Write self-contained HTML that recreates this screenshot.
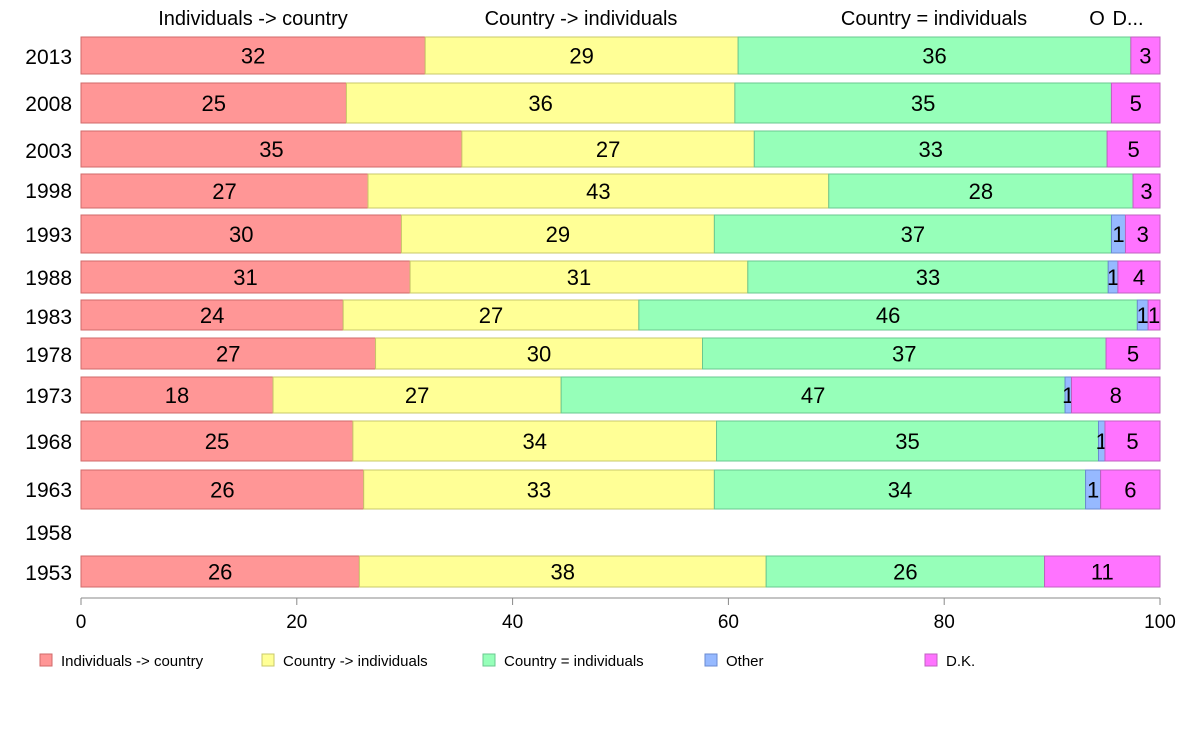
<!DOCTYPE html>
<html><head><meta charset="utf-8"><style>
body{margin:0;background:#fff;font-family:"Liberation Sans",sans-serif}
svg text{font-family:"Liberation Sans",sans-serif}
</style></head><body>
<svg width="1188" height="736">
<g id="hdr"></g>
<g id="bars"></g>
<g id="axis"></g>
<g id="legend"></g>
</svg>
<script>
const years = ["2013","2008","2003","1998","1993","1988","1983","1978","1973","1968","1963","1958","1953"];
const indToCountry = [31.9,24.6,35.3,26.6,29.7,30.5,24.3,27.3,17.8,25.2,26.2,0,25.8];
const countryToInd = [29.0,36.0,27.1,42.7,29.0,31.3,27.4,30.3,26.7,33.7,32.5,0,37.7];
const countryEqInd = [36.4,34.9,32.7,28.2,36.8,33.4,46.2,37.4,46.7,35.4,34.4,0,25.8];
const other = [0,0,0,0,1.3,0.9,1.0,0,0.6,0.6,1.4,0,0];
const dk = [2.7,4.5,4.9,2.5,3.2,3.9,1.1,5.0,8.2,5.1,5.5,0,10.7];
const seriesNames = ["Individuals -> country","Country -> individuals","Country = individuals","Other","D.K."];
const xTicks = [0,20,40,60,80,100];
// layout
const barTop=[37,83,131,174,215,261,300,338,377,421,470,0,556];
const barBot=[74,123,167,208,253,293,330,369,413,461,509,0,587];
const yearY=[57,104,151,191,235,278,317,355,396,442,490,533,573];
const fills=["#ff9696","#ffff96","#96ffb9","#96b9ff","#ff73ff"];
const strokes=["#d06a6a","#c8c86a","#6ac890","#6a8ad0","#c060c0"];
const NS="http://www.w3.org/2000/svg";
const x0=81,x1=1160;
const xs=v=>x0+(x1-x0)*v/100;
function mk(tag,attrs,parent,txt){const e=document.createElementNS(NS,tag);for(const k in attrs)e.setAttribute(k,attrs[k]);if(txt!==undefined)e.textContent=txt;parent.appendChild(e);return e;}
const series=[indToCountry,countryToInd,countryEqInd,other,dk];
const bars=document.getElementById('bars');
years.forEach((y,i)=>{
  const t=mk('text',{x:72,y:yearY[i]+7,'text-anchor':'end','font-size':21,fill:'#000'},bars,y);
  
  
  const tot=series.reduce((s,a)=>s+a[i],0);
  if(!tot)return;
  let acc=0;
  series.forEach((a,k)=>{
    const v=a[i];if(!v)return;
    const xa=xs(acc/tot*100),xb=xs((acc+v)/tot*100);acc+=v;
    const r=mk('rect',{x:xa,y:barTop[i],width:xb-xa,height:barBot[i]-barTop[i],fill:fills[k],stroke:strokes[k],'stroke-width':1},bars);
    
    
    const l=mk('text',{x:(xa+xb)/2,y:(barTop[i]+barBot[i])/2+8,'text-anchor':'middle','font-size':22,fill:'#000'},bars,String(Math.round(v)));
    
    
  });
});
const ax=document.getElementById('axis');
mk('line',{x1:x0,x2:x1,y1:598,y2:598,stroke:'#888'},ax);
xTicks.forEach(v=>{
  mk('line',{x1:xs(v),x2:xs(v),y1:598,y2:605,stroke:'#888'},ax);
  const t=mk('text',{x:xs(v),y:628,'text-anchor':'middle','font-size':19},ax,String(v));
  
  
});
const hdr=document.getElementById('hdr');
const hdrTxt=["Individuals -> country","Country -> individuals","Country = individuals","O","D..."];
const hdrX=[253,581,934,1097,1128];
hdrTxt.forEach((s,k)=>{
  const t=mk('text',{x:hdrX[k],y:25,'text-anchor':'middle','font-size':20},hdr,s);
  
  
});
const lg=document.getElementById('legend');
const lgX=[40,262,483,705,925];
seriesNames.forEach((s,k)=>{
  const r=mk('rect',{x:lgX[k],y:654,width:12,height:12,fill:fills[k],stroke:strokes[k]},lg);
  
  
  const t=mk('text',{x:lgX[k]+21,y:666,'font-size':15},lg,s);
  
  
});
</script>
</body></html>
